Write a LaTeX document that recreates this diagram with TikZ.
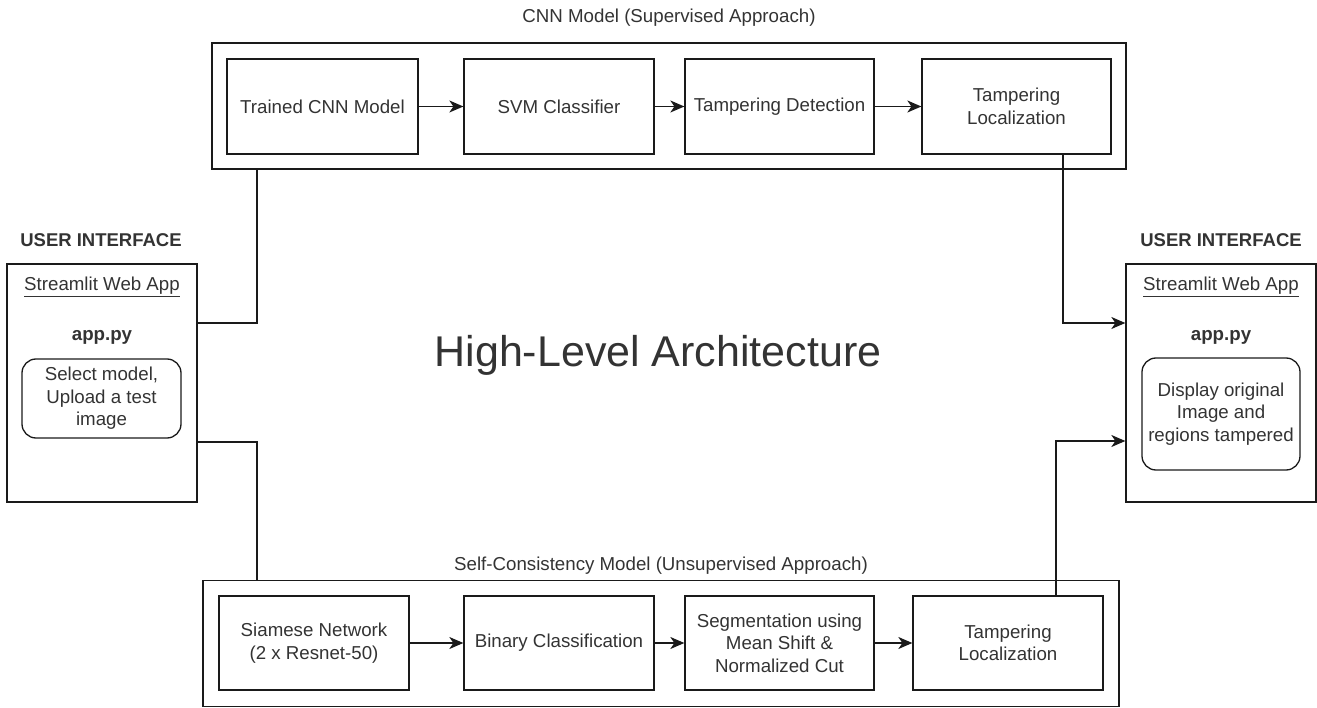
\documentclass[tikz,border=0pt]{standalone}
\usepackage{fontspec}
\setmainfont{Liberation Sans}
\usetikzlibrary{arrows.meta,calc}
\definecolor{txt}{HTML}{333333}
\definecolor{ln}{HTML}{1A1A1A}
\begin{document}
\begin{tikzpicture}[x=1pt,y=-1pt,
  every node/.style={text=txt,font=\fontsize{18.7}{22.5}\selectfont,inner sep=0pt},
  blk/.style={draw=ln,line width=1.3pt,align=center,minimum height=95pt},
  cont/.style={draw=ln,line width=1.3pt},
  rbox/.style={draw=ln,line width=1.3pt,rounded corners=14pt,align=center},
  wire/.style={draw=ln,line width=1.3pt},
  arr/.style={wire,-{Stealth[length=14pt,width=12pt,inset=4pt]}},
  lbl/.style={align=center}]
\useasboundingbox (0,0) rectangle (1317,708);
% containers
\node[cont,minimum width=914pt,minimum height=126pt] (TC) at (669,106) {};
\node[cont,minimum width=916pt,minimum height=126pt] (BC) at (661,643.5) {};
\node[lbl] (TT) at (669,18) {CNN Model (Supervised Approach)};
\node[lbl] (BT) at (661,566) {Self-Consistency Model (Unsupervised Approach)};
% top boxes
\node[blk,minimum width=191pt] (A1) at (322.5,106.5) {Trained CNN Model};
\node[blk,minimum width=190pt] (A2) at (559,106.5) {SVM Classifier};
\node[blk,minimum width=189pt] (A3) at (779.5,106.5) {Tampering Detection};
\node[blk,minimum width=189pt] (A4) at (1016.5,106.5) {Tampering\\Localization};
% bottom boxes
\node[blk,minimum width=190pt,minimum height=94pt] (B1) at (314,643) {Siamese Network\\(2 x Resnet-50)};
\node[blk,minimum width=190pt,minimum height=94pt] (B2) at (559,643) {Binary Classification};
\node[blk,minimum width=189pt,minimum height=94pt] (B3) at (779.5,643) {Segmentation using\\Mean Shift \&\\Normalized Cut};
\node[blk,minimum width=190pt,minimum height=94pt] (B4) at (1008,643) {Tampering\\Localization};
\draw[arr] (A1) -- (A2);
\draw[arr] (A2) -- (A3);
\draw[arr] (A3) -- (A4);
\draw[arr] (B1) -- (B2);
\draw[arr] (B2) -- (B3);
\draw[arr] (B3) -- (B4);
% user interfaces
\node[cont,minimum width=190pt,minimum height=238pt] (LUI) at (102,383) {};
\node[cont,minimum width=190pt,minimum height=238pt] (RUI) at (1221,383) {};
\node[lbl,font=\bfseries\fontsize{18.5}{22}\selectfont] (LH) at (101,240) {USER INTERFACE};
\node[lbl,font=\bfseries\fontsize{18.5}{22}\selectfont] (RH) at (1221,240) {USER INTERFACE};
\node[lbl] (LS) at (102,287) {\underline{Streamlit Web App}};
\node[lbl] (RS) at (1221,287) {\underline{Streamlit Web App}};
\node[lbl,font=\bfseries\fontsize{18.7}{22}\selectfont] (LP) at (102,337) {app.py};
\node[lbl,font=\bfseries\fontsize{18.7}{22}\selectfont] (RP) at (1221,337) {app.py};
\node[rbox,minimum width=159pt,minimum height=79pt] (LR) at (101.5,398.5) {Select model,\\Upload a test\\image};
\node[rbox,minimum width=158pt,minimum height=112pt] (RR) at (1221,414) {Display original\\Image and\\regions tampered};
% title
\node[lbl,font=\fontsize{43}{50}\selectfont] (HL) at (658,355) {High-Level Architecture};
% connectors
\coordinate (l1) at (257,323);
\coordinate (l2) at (257,442);
\coordinate (r1) at (1063,323);
\coordinate (r2) at (1056,441);
\draw[wire] (LUI.east |- l1) -| (TC.south -| l1);
\draw[wire] (LUI.east |- l2) -| (BC.north -| l2);
\draw[arr] (A4.south -| r1) |- (RUI.west |- r1);
\draw[arr] (B4.north -| r2) |- (RUI.west |- r2);
\end{tikzpicture}
\end{document}
